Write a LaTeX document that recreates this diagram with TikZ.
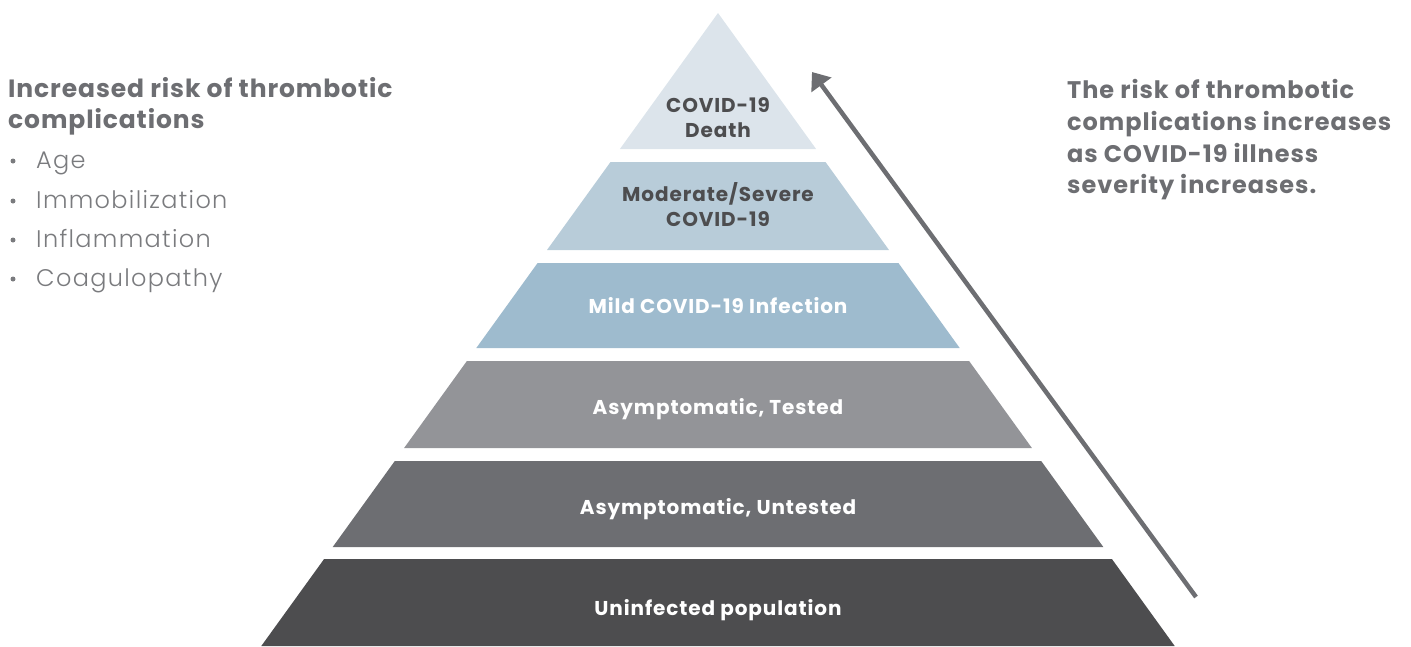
\documentclass[tikz,border=0pt]{standalone}
\usepackage{fontspec}
\setmainfont{Poppins}[BoldFont={* Bold}]
\newfontfamily\lightfont{Poppins Light}[LetterSpace=5.5]
\usetikzlibrary{arrows.meta}
\definecolor{cA}{HTML}{DCE4EB}
\definecolor{cB}{HTML}{B8CCD9}
\definecolor{cC}{HTML}{9EBBCE}
\definecolor{cD}{HTML}{939498}
\definecolor{cE}{HTML}{6D6E72}
\definecolor{cF}{HTML}{4D4D4F}
\definecolor{txtdark}{HTML}{4D4D4F}
\definecolor{txtgray}{HTML}{6D6E72}
\definecolor{txtlight}{HTML}{7A7B7E}
\begin{document}
\begin{tikzpicture}[x=1pt,y=-1pt,
  lbl/.style={font=\bfseries\fontsize{20}{25}\selectfont\addfontfeature{LetterSpace=4.5}, align=center, anchor=base, inner sep=0pt},
  lbldark/.style={lbl, text=txtdark},
  lblwhite/.style={lbl, text=white},
  head/.style={font=\bfseries\fontsize{25}{31}\selectfont\addfontfeature{LetterSpace=3.6}, text=txtgray, anchor=base west, inner sep=0pt},
  rhead/.style={head, font=\bfseries\fontsize{24}{31}\selectfont\addfontfeature{LetterSpace=4}},
  item/.style={font=\lightfont\fontsize{24}{28}\selectfont, text=txtlight, anchor=base west, inner sep=0pt},
  dot/.style={circle, fill=txtlight, inner sep=0pt, minimum size=5pt},
  riskarrow/.style={draw=cE, line width=4.5pt, -{Triangle[length=16pt,width=24pt]}}]
\useasboundingbox (0,0) rectangle (1411,646);
% layers
\fill[cA] (718,13) -- (816.1,149) -- (619.9,149) -- cycle;
\fill[cB] (610.5,162) -- (825.5,162) -- (889.0,250) -- (547.0,250) -- cycle;
\fill[cC] (537.6,263) -- (898.4,263) -- (959.7,348) -- (476.3,348) -- cycle;
\fill[cD] (466.9,361) -- (969.1,361) -- (1031.9,448) -- (404.1,448) -- cycle;
\fill[cE] (394.8,461) -- (1041.2,461) -- (1103.3,547) -- (332.7,547) -- cycle;
\fill[cF] (324.1,559) -- (1111.9,559) -- (1174.7,646) -- (261.3,646) -- cycle;
% layer labels
\node[lbldark] (l1a) at (718,112) {COVID-19};
\node[lbldark] (l1b) at (718,137) {Death};
\node[lbldark] (l2a) at (718,201) {Moderate/Severe};
\node[lbldark] (l2b) at (718,226) {COVID-19};
\node[lblwhite] (l3) at (718,313) {Mild COVID-19 Infection};
\node[lblwhite] (l4) at (718,414) {Asymptomatic, Tested};
\node[lblwhite] (l5) at (718,514) {Asymptomatic, Untested};
\node[lblwhite] (l6) at (718,615) {Uninfected population};
% left text
\node[head] (h1) at (8,97) {Increased risk of thrombotic};
\node[head] (h2) at (8,128) {complications};
\node[item] (i1) at (36,168) {Age};
\node[item] (i2) at (36,208) {Immobilization};
\node[item] (i3) at (36,247) {Inflammation};
\node[item] (i4) at (36,286) {Coagulopathy};
\node[dot] (d1) at (13,161) {};
\node[dot] (d2) at (13,201) {};
\node[dot] (d3) at (13,240) {};
\node[dot] (d4) at (13,279) {};
% right text
\node[rhead] (r1) at (1067,98) {The risk of thrombotic};
\node[rhead] (r2) at (1067,130) {complications increases};
\node[rhead] (r3) at (1067,162) {as COVID-19 illness};
\node[rhead] (r4) at (1067,193) {severity increases.};
% arrow
\coordinate (arrS) at (1196,597);
\coordinate (arrE) at (812,72);
\draw[riskarrow] (arrS) -- (arrE);
\end{tikzpicture}
\end{document}
